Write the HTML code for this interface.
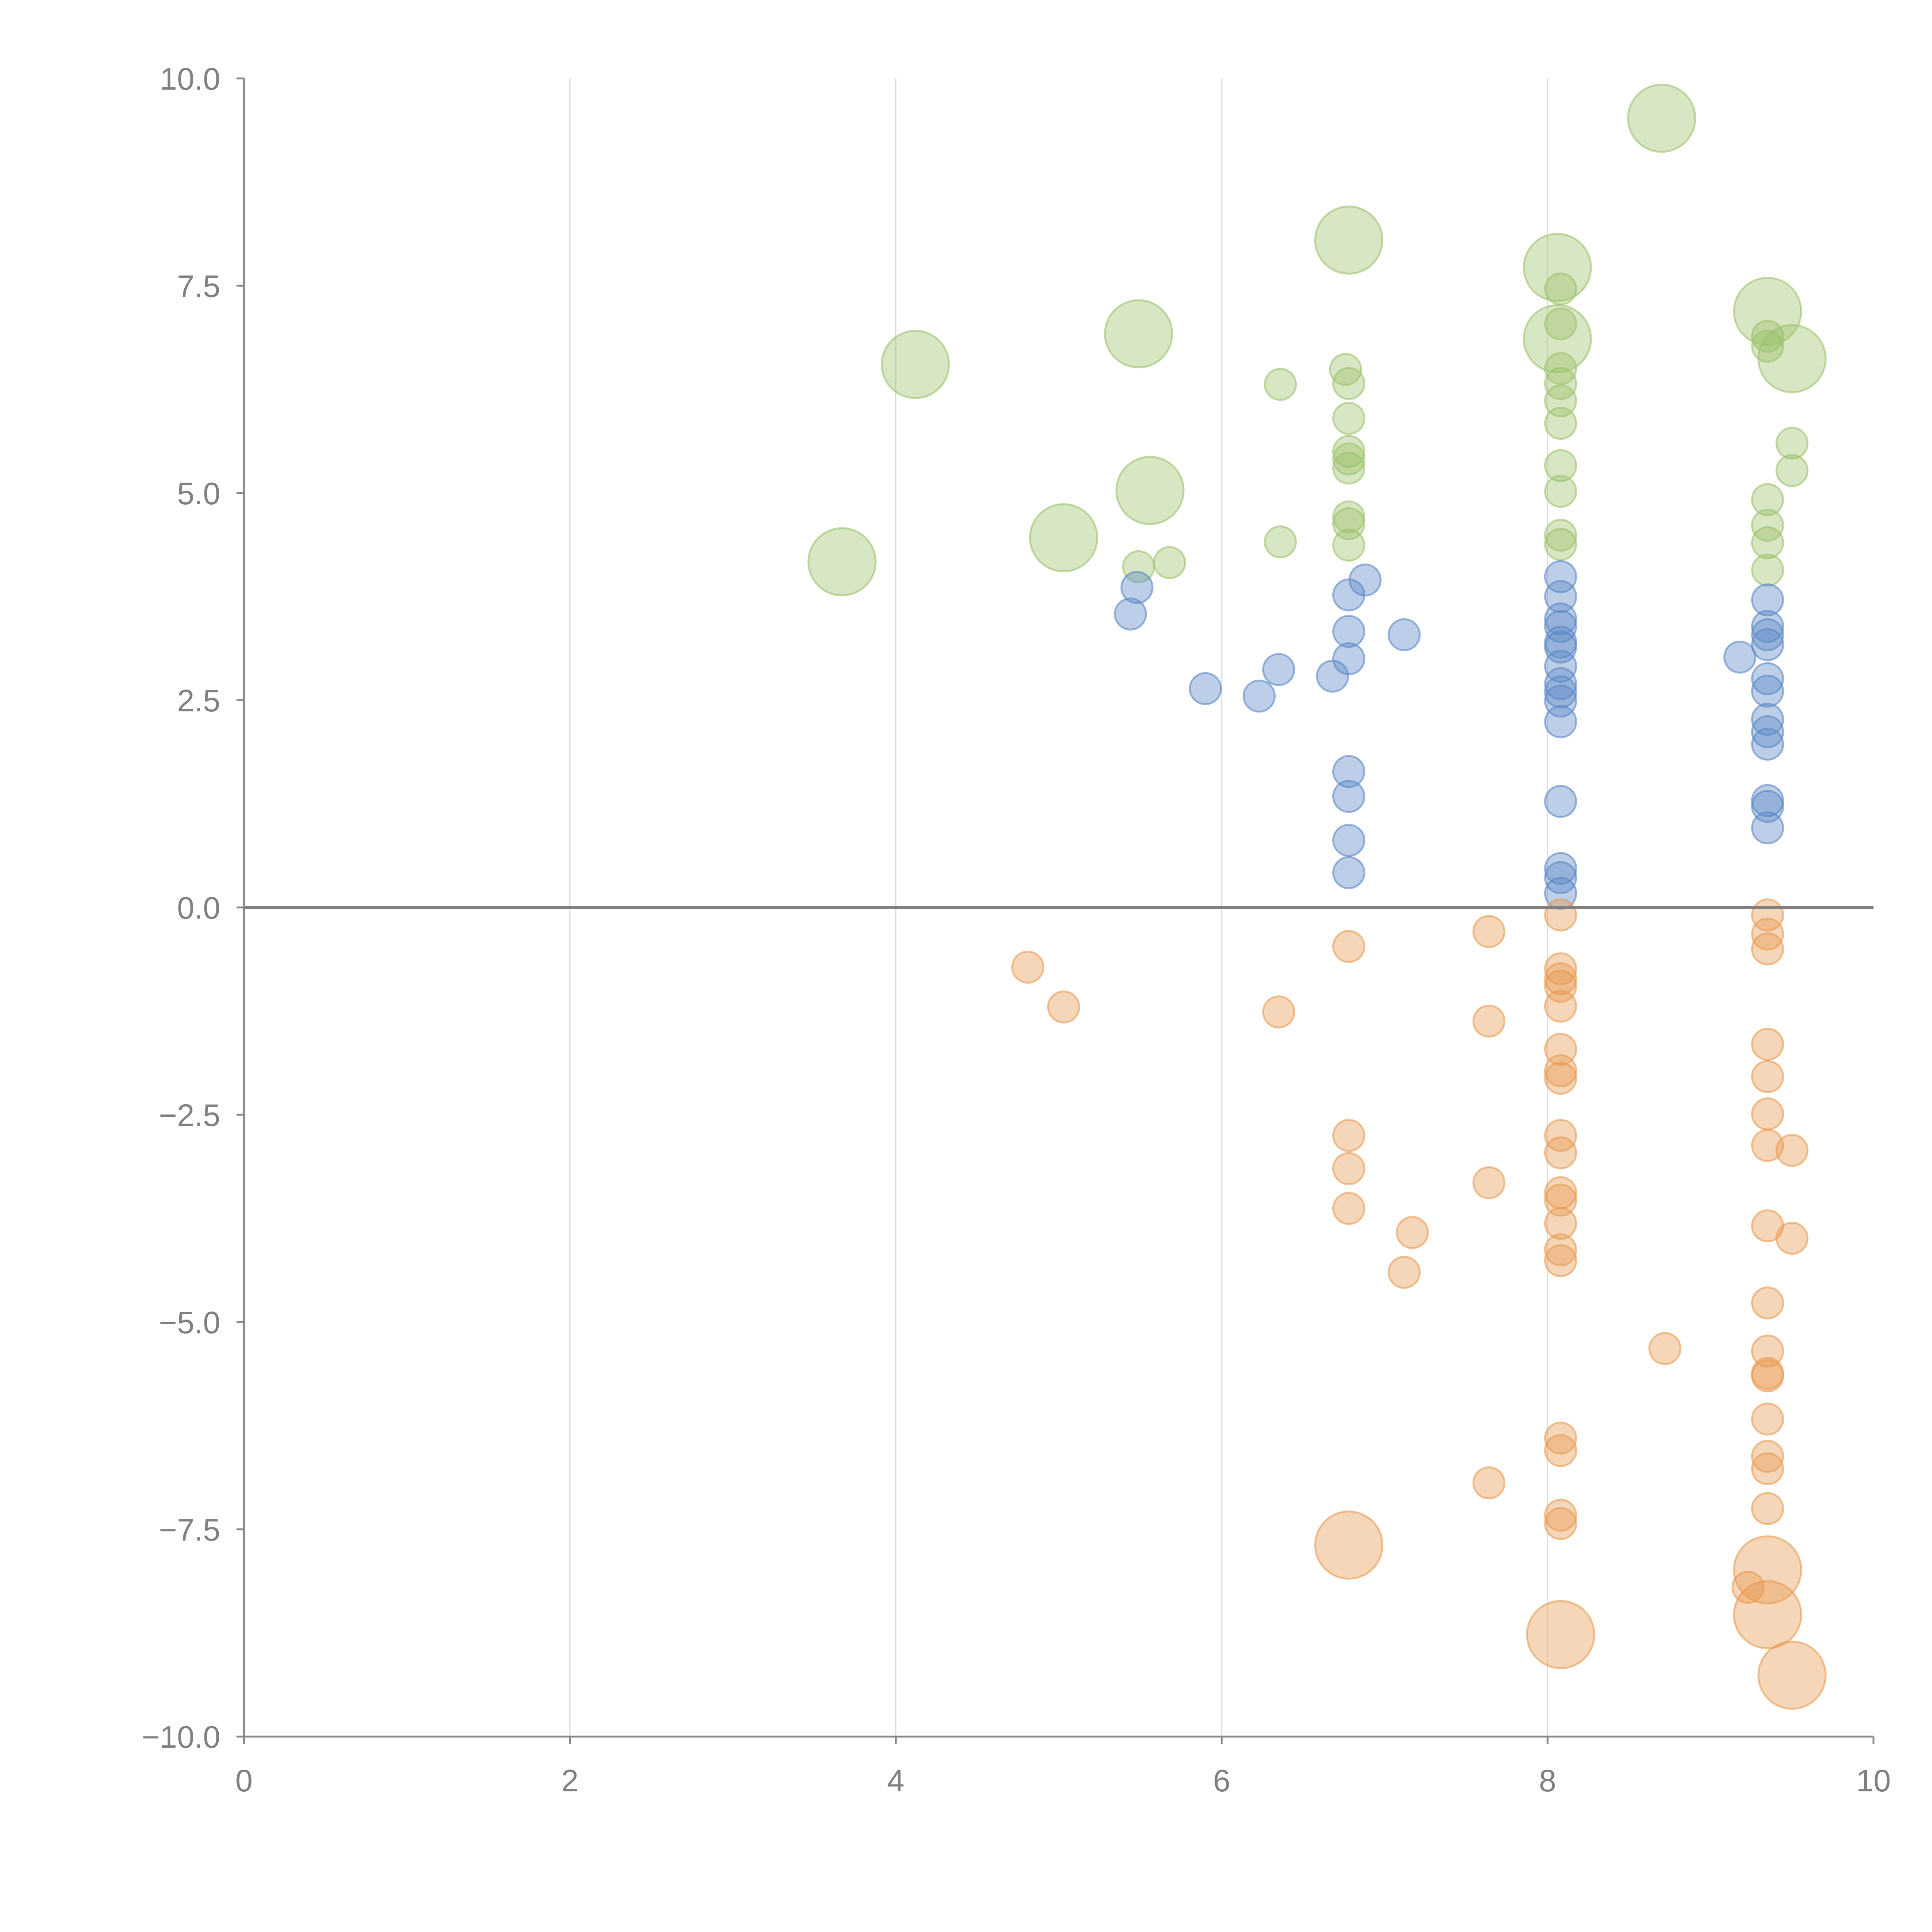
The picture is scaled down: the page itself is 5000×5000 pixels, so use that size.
<!DOCTYPE html>
<html><head><meta charset="utf-8"><style>
html,body{margin:0;padding:0;background:#fff}
svg{display:block}
text{font-family:"Liberation Sans",sans-serif;fill:#808080}
</style></head><body>
<svg id="chart" width="5000" height="5000" viewBox="0 0 1552 1552" xmlns="http://www.w3.org/2000/svg">
<g id="grid"></g>
<g id="marks"></g>
<g id="axes"></g>
</svg>
<script>
const xTicks=[0,2,4,6,8,10];
const yTicks=[10,7.5,5,2.5,0,-2.5,-5,-7.5,-10];
const yTickLabels=["10.0","7.5","5.0","2.5","0.0","\u22122.5","\u22125.0","\u22127.5","\u221210.0"];
const greenX=[4.12,3.67,5.03,5.49,5.56,6.78,8.06,8.06,8.70,9.35,9.50,6.36,6.36,5.49,5.68,6.76,6.78,6.78,6.78,6.78,6.78,6.78,6.78,6.78,8.08,8.08,8.08,8.08,8.08,8.08,8.08,8.08,8.08,8.08,9.35,9.35,9.35,9.35,9.35,9.35,9.50,9.50];
const greenY=[6.55,4.17,4.46,6.92,5.03,8.05,7.72,6.86,9.52,7.19,6.62,6.31,4.41,4.11,4.16,6.49,6.32,5.90,5.50,5.41,5.30,4.71,4.63,4.37,7.46,7.04,6.50,6.32,6.11,5.84,5.33,5.02,4.49,4.38,6.89,6.77,4.92,4.61,4.40,4.07,5.60,5.27];
const greenS=[2,2,2,2,2,2,2,2,2,2,2,1,1,1,1,1,1,1,1,1,1,1,1,1,1,1,1,1,1,1,1,1,1,1,1,1,1,1,1,1,1,1];
const blueX=[5.48,5.44,5.90,6.23,6.35,6.68,6.78,6.88,6.78,6.78,7.12,6.78,6.78,6.78,6.78,8.08,8.08,8.08,8.08,8.08,8.08,8.08,8.08,8.08,8.08,8.08,8.08,8.08,8.08,8.08,9.18,9.35,9.35,9.35,9.35,9.35,9.35,9.35,9.35,9.35,9.35,9.35,9.35];
const blueY=[3.86,3.54,2.64,2.55,2.87,2.79,3.77,3.95,3.33,3.00,3.29,1.64,1.34,0.81,0.42,3.99,3.75,3.48,3.39,3.20,3.14,2.91,2.70,2.60,2.49,2.24,1.28,0.47,0.36,0.17,3.02,3.71,3.39,3.29,3.17,2.76,2.61,2.27,2.12,1.97,1.29,1.22,0.96];
const orangeX=[4.81,5.03,6.35,6.78,7.64,7.64,6.78,6.78,6.78,7.64,7.17,7.12,7.64,8.72,6.78,8.08,8.08,8.08,8.08,8.08,8.08,8.08,8.08,8.08,8.08,8.08,8.08,8.08,8.08,8.08,8.08,8.08,8.08,8.08,8.08,9.35,9.35,9.35,9.35,9.35,9.35,9.35,9.35,9.35,9.35,9.35,9.35,9.35,9.35,9.35,9.35,9.50,9.50,9.23,9.35,9.35,9.50];
const orangeY=[-0.72,-1.20,-1.26,-0.47,-0.29,-1.37,-2.75,-3.15,-3.63,-3.32,-3.92,-4.40,-6.94,-5.32,-7.69,-0.09,-0.74,-0.86,-0.95,-1.19,-1.71,-1.97,-2.06,-2.75,-2.96,-3.44,-3.53,-3.81,-4.13,-4.26,-6.40,-6.55,-7.33,-7.43,-8.77,-0.09,-0.32,-0.50,-1.65,-2.04,-2.49,-2.87,-3.84,-4.77,-5.35,-5.62,-5.65,-6.17,-6.62,-6.77,-7.25,-2.93,-3.99,-8.20,-7.99,-8.53,-9.26];
const orangeS=[1,1,1,1,1,1,1,1,1,1,1,1,1,1,2,1,1,1,1,1,1,1,1,1,1,1,1,1,1,1,1,1,1,1,2,1,1,1,1,1,1,1,1,1,1,1,1,1,1,1,1,1,1,1,2,2,2];

const NS="http://www.w3.org/2000/svg";
const X0=196,X1=1505,Y0=1395,Y1=63;
function sx(v){return X0+(v-0)/(10-0)*(X1-X0);}
function sy(v){return Y0-(v+10)/20*(Y0-Y1);}
function rr(s){return s===2?27:12.5;}
function mk(tag,at,parent){const e=document.createElementNS(NS,tag);for(const k in at)e.setAttribute(k,at[k]);parent.appendChild(e);return e;}
const grid=document.getElementById('grid'),marks=document.getElementById('marks'),axes=document.getElementById('axes');
xTicks.forEach(t=>{if(t>0&&t<10){const l=mk('line',{x1:sx(t),x2:sx(t),y1:Y1,y2:Y0,stroke:'#dcdcdc','stroke-width':1},grid);

}});
function series(xs,ys,ss,fill,stroke,name){xs.forEach((x,i)=>{const c=mk('circle',{cx:sx(x),cy:sy(ys[i]),r:rr(ss?ss[i]:1),fill:fill,'fill-opacity':0.4,stroke:stroke,'stroke-opacity':0.6,'stroke-width':1.5},marks);

});}
series(greenX,greenY,greenS,'#9cc16a','#9cc16a','green-bubble');
series(blueX,blueY,null,'#5a86c5','#5a86c5','blue-bubble');
series(orangeX,orangeY,orangeS,'#e8994f','#e8994f','orange-bubble');
const zl=mk('line',{x1:X0,x2:X1,y1:sy(0),y2:sy(0),stroke:'#808080','stroke-width':2.5},axes);


const ya=mk('line',{x1:X0,x2:X0,y1:Y1,y2:Y0,stroke:'#888','stroke-width':1.5},axes);


const xa=mk('line',{x1:X0,x2:X1,y1:Y0,y2:Y0,stroke:'#888','stroke-width':1.5},axes);


yTicks.forEach((t,i)=>{mk('line',{x1:X0-6,x2:X0,y1:sy(t),y2:sy(t),stroke:'#888','stroke-width':1.5},axes);
const tx=mk('text',{x:X0-19,y:sy(t)+9,'text-anchor':'end','font-size':25},axes);tx.textContent=yTickLabels[i];

});
xTicks.forEach(t=>{mk('line',{x1:sx(t),x2:sx(t),y1:Y0,y2:Y0+6,stroke:'#888','stroke-width':1.5},axes);
const tx=mk('text',{x:sx(t),y:Y0+44,'text-anchor':'middle','font-size':25},axes);tx.textContent=String(t);

});
</script>
</body></html>
